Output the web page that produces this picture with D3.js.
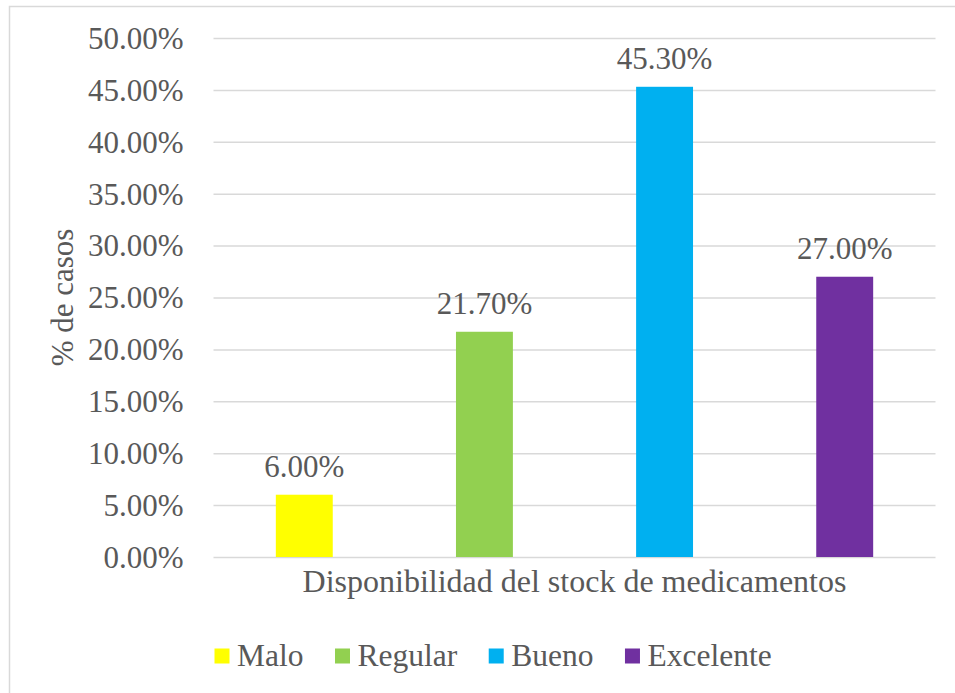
<!DOCTYPE html>
<html>
<head>
<meta charset="utf-8">
<script src="https://cdn.jsdelivr.net/npm/d3@7"></script>
</head>
<body style="margin:0">
<svg id="chart" width="955" height="693" font-family="Liberation Serif"></svg>
<script>
'use strict';

var categories = ['Malo', 'Regular', 'Bueno', 'Excelente'];
var values = [6.0, 21.7, 45.3, 27.0];
var colors = ['#FFFF00', '#92D050', '#00B0F0', '#7030A0'];
var yTicks = [0, 5, 10, 15, 20, 25, 30, 35, 40, 45, 50];
var xTitle = 'Disponibilidad del stock de medicamentos';
var yTitle = '% de casos';

(function() {
	var svg = d3.select('svg#chart');
	var fontSize = 31;
	var textColor = '#595959';
	var left = 213.5, right = 935.5, top = 38, bottom = 557;

	var addText = function(sel) {
		return sel.append('text')
			.style('font-family', '"Liberation Serif"')
			.attr('fill', textColor)
			.attr('font-size', fontSize);
	};

	// frame (runs off the picture at right and bottom)
	svg.append('rect')
		.attr('x', 9.5)
		.attr('y', 6.5)
		.attr('width', 960)
		.attr('height', 700)
		.attr('fill', 'none')
		.attr('stroke', '#d9d9d9')
		.attr('stroke-width', 1.5);

	var y = d3.scaleLinear().domain([0, 50]).range([bottom, top]);
	var x = d3.scaleBand()
		.domain(categories)
		.range([left, right])
		.paddingInner(0.684)
		.paddingOuter(0.346);

	// gridlines from the axis, labels drawn separately
	var yAxis = d3.axisLeft(y)
		.tickValues(yTicks)
		.tickSize(-(right - left))
		.tickFormat('');

	var g = svg.append('g')
		.attr('transform', 'translate(' + left + ',0)')
		.call(yAxis);
	g.select('.domain').remove();
	g.selectAll('.tick line')
		.attr('stroke', '#d9d9d9')
		.attr('stroke-width', 1.5);

	yTicks.forEach(function(t) {
		addText(svg)
			.attr('x', left - 30)
			.attr('y', y(t))
			.attr('dy', '0.35em')
			.attr('text-anchor', 'end')
			.text(t.toFixed(2) + '%');
	});

	svg.selectAll('rect.bar')
		.data(values)
		.enter()
		.append('rect')
		.attr('class', 'bar')
		.attr('x', function(d, i) {
			return x(categories[i]);
		})
		.attr('y', function(d) {
			return y(d);
		})
		.attr('width', x.bandwidth())
		.attr('height', function(d) {
			return bottom - y(d);
		})
		.attr('fill', function(d, i) {
			return colors[i];
		});

	values.forEach(function(d, i) {
		addText(svg)
			.attr('x', x(categories[i]) + x.bandwidth() / 2)
			.attr('y', y(d) - 17.5)
			.attr('text-anchor', 'middle')
			.text(d.toFixed(2) + '%');
	});

	addText(svg)
		.attr('x', (left + right) / 2)
		.attr('y', 592)
		.attr('text-anchor', 'middle')
		.attr('font-size', 32)
		.text(xTitle);

	addText(svg)
		.attr('transform', 'translate(73,' + (top + bottom) / 2 + ') rotate(-90)')
		.attr('text-anchor', 'middle')
		.text(yTitle);

	// legend
	var lx = 214.5;
	var ly = 648.5;
	categories.forEach(function(name, i) {
		svg.append('rect')
			.attr('x', lx)
			.attr('y', ly)
			.attr('width', 15)
			.attr('height', 15)
			.attr('fill', colors[i]);
		var t = addText(svg)
			.attr('x', lx + 22.5)
			.attr('y', 665.5)
			.attr('font-size', 31.5)
			.text(name);
		lx = lx + 22.5 + t.node().getComputedTextLength() + 31.5;
	});
})();
</script>
</body>
</html>
